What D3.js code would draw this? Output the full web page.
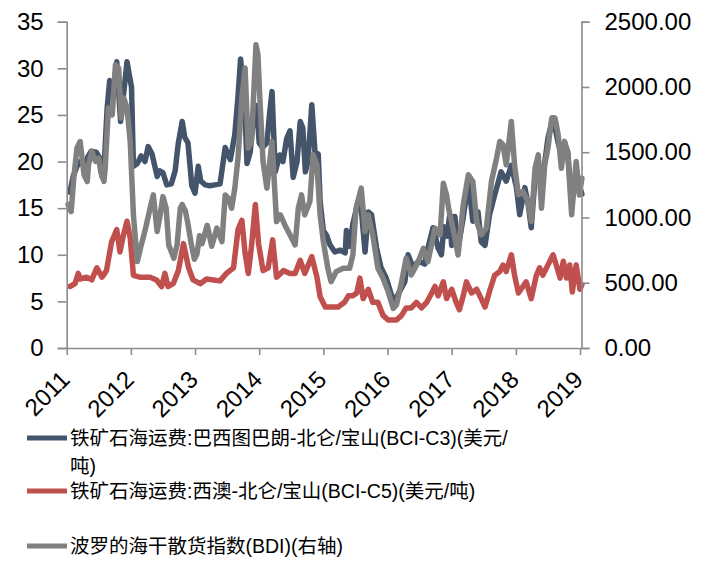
<!DOCTYPE html>
<html><head><meta charset="utf-8">
<script src="https://cdn.jsdelivr.net/npm/d3@7/dist/d3.min.js"></script>
<style>
body{margin:0;background:#fff;}
svg{display:block;}
text{font-family:"Liberation Sans",Arial,"Noto Sans CJK SC",sans-serif;fill:#000;}
</style></head><body>
<svg id="chart" width="719" height="561"></svg>
<script>
// ---- data (x in decimal years) ----
const yearTicks = [2011,2012,2013,2014,2015,2016,2017,2018,2019];
const leftTicks = [0,5,10,15,20,25,30,35];
const rightTicks = [0,500,1000,1500,2000,2500];

const c3Years = [2011.05,2011.10,2011.16,2011.21,2011.27,2011.33,2011.38,2011.46,2011.52,2011.55,2011.58,2011.63,2011.67,2011.72,2011.78,2011.84,2011.88,2011.94,2011.97,2012.01,2012.04,2012.10,2012.16,2012.22,2012.27,2012.33,2012.41,2012.45,2012.50,2012.56,2012.63,2012.69,2012.74,2012.80,2012.84,2012.89,2012.95,2013.00,2013.05,2013.09,2013.16,2013.23,2013.31,2013.39,2013.47,2013.55,2013.62,2013.67,2013.71,2013.75,2013.78,2013.81,2013.86,2013.90,2013.96,2014.00,2014.05,2014.12,2014.16,2014.20,2014.25,2014.32,2014.37,2014.43,2014.48,2014.53,2014.59,2014.64,2014.68,2014.72,2014.76,2014.82,2014.87,2014.92,2014.95,2015.00,2015.05,2015.10,2015.18,2015.26,2015.34,2015.36,2015.41,2015.46,2015.54,2015.59,2015.65,2015.70,2015.75,2015.83,2015.90,2015.98,2016.06,2016.12,2016.16,2016.27,2016.32,2016.40,2016.48,2016.58,2016.63,2016.71,2016.79,2016.84,2016.88,2016.93,2016.97,2017.00,2017.05,2017.10,2017.18,2017.26,2017.33,2017.41,2017.46,2017.52,2017.59,2017.67,2017.77,2017.85,2017.93,2018.01,2018.06,2018.14,2018.19,2018.24,2018.30,2018.35,2018.43,2018.50,2018.58,2018.66,2018.71,2018.76,2018.81,2018.87,2018.94,2019.00,2019.03];
const c3Values = [16.7,18.4,19.5,20.0,19.5,20.5,21.1,21.0,20.3,18.4,19.0,25.7,28.7,27.0,30.7,24.3,26.8,30.7,29.5,28.0,19.5,19.8,20.6,20.0,21.6,20.8,18.4,19.0,18.8,17.5,17.6,19.0,22.0,24.3,22.6,22.0,17.4,16.6,19.5,17.9,17.5,17.4,17.5,17.6,21.5,20.2,22.9,27.0,31.0,28.0,25.0,19.8,21.0,24.0,26.0,22.0,21.5,22.0,25.0,27.5,18.9,20.7,20.0,22.5,23.3,18.3,20.0,24.3,23.6,18.9,20.0,26.1,21.0,20.8,15.7,12.6,12.1,11.1,10.3,10.5,10.2,12.6,10.9,13.3,15.7,15.0,10.3,14.6,14.3,10.7,8.6,7.5,5.7,5.0,5.7,7.1,10.0,8.6,9.3,9.0,10.7,12.9,10.7,10.0,13.0,12.0,14.3,11.0,14.1,10.7,14.0,17.9,13.6,14.6,11.4,11.0,14.3,16.4,18.9,17.9,19.6,17.2,14.3,17.2,15.5,12.9,18.3,19.7,18.8,22.5,24.7,22.0,20.7,22.0,21.0,15.4,19.2,17.2,16.5];

const c5Years = [2011.05,2011.13,2011.18,2011.21,2011.31,2011.39,2011.47,2011.55,2011.62,2011.70,2011.78,2011.83,2011.88,2011.94,2011.99,2012.04,2012.14,2012.30,2012.40,2012.48,2012.53,2012.58,2012.66,2012.74,2012.82,2012.90,2012.97,2013.08,2013.18,2013.29,2013.39,2013.49,2013.60,2013.67,2013.73,2013.78,2013.83,2013.88,2013.94,2013.99,2014.06,2014.14,2014.21,2014.27,2014.38,2014.48,2014.56,2014.64,2014.71,2014.82,2014.90,2014.95,2015.03,2015.15,2015.23,2015.33,2015.39,2015.46,2015.52,2015.57,2015.62,2015.70,2015.77,2015.85,2015.93,2016.01,2016.14,2016.22,2016.29,2016.37,2016.45,2016.53,2016.61,2016.69,2016.74,2016.79,2016.87,2016.92,2017.00,2017.07,2017.12,2017.18,2017.23,2017.31,2017.39,2017.46,2017.52,2017.60,2017.67,2017.75,2017.80,2017.85,2017.93,2017.98,2018.04,2018.11,2018.16,2018.24,2018.32,2018.37,2018.42,2018.50,2018.58,2018.63,2018.69,2018.74,2018.79,2018.84,2018.88,2018.94,2019.00,2019.03];
const c5Values = [6.6,6.9,8.0,7.4,7.6,7.3,8.6,7.6,8.3,11.4,12.7,10.3,12.0,13.6,11.8,7.8,7.6,7.6,7.3,6.6,8.0,6.6,6.9,8.3,11.2,8.6,7.3,6.9,7.4,7.3,7.2,8.0,8.6,12.7,13.7,10.2,8.0,10.9,15.4,11.2,8.3,8.6,11.6,7.6,8.3,8.0,8.0,9.4,8.0,9.8,7.6,5.5,4.4,4.4,4.4,4.9,5.6,5.6,5.9,7.5,5.3,6.3,4.9,4.9,3.5,3.0,3.0,3.5,4.3,4.3,4.9,4.3,4.9,5.9,6.6,5.6,7.1,5.3,6.3,4.9,4.1,5.6,7.1,5.9,6.3,5.3,4.4,6.3,7.8,8.2,8.9,8.2,10.0,7.8,5.9,6.6,7.1,5.3,7.8,8.6,7.8,8.9,10.0,8.9,7.5,9.3,7.5,8.9,6.0,8.9,6.3,6.8];

const bdiYears = [2011.02,2011.07,2011.11,2011.16,2011.21,2011.27,2011.32,2011.34,2011.39,2011.45,2011.50,2011.53,2011.58,2011.60,2011.65,2011.71,2011.76,2011.81,2011.85,2011.89,2011.94,2011.99,2012.04,2012.10,2012.15,2012.23,2012.30,2012.35,2012.41,2012.45,2012.50,2012.55,2012.59,2012.67,2012.72,2012.77,2012.80,2012.85,2012.89,2012.94,2012.99,2013.03,2013.07,2013.11,2013.19,2013.26,2013.34,2013.42,2013.47,2013.52,2013.57,2013.62,2013.67,2013.73,2013.78,2013.83,2013.88,2013.95,2013.98,2014.01,2014.06,2014.12,2014.20,2014.27,2014.33,2014.40,2014.48,2014.56,2014.61,2014.66,2014.71,2014.79,2014.84,2014.90,2014.95,2015.00,2015.07,2015.12,2015.20,2015.31,2015.41,2015.46,2015.51,2015.59,2015.65,2015.70,2015.77,2015.85,2015.93,2016.01,2016.09,2016.14,2016.22,2016.29,2016.37,2016.48,2016.56,2016.63,2016.74,2016.82,2016.87,2016.92,2016.96,2017.02,2017.10,2017.18,2017.26,2017.33,2017.39,2017.46,2017.54,2017.62,2017.70,2017.75,2017.80,2017.85,2017.93,2017.98,2018.04,2018.11,2018.19,2018.24,2018.30,2018.35,2018.40,2018.45,2018.50,2018.56,2018.61,2018.66,2018.71,2018.76,2018.81,2018.87,2018.94,2018.99,2019.03];
const bdiValues = [1100,1045,1300,1532,1582,1327,1276,1403,1506,1430,1455,1350,1276,1378,1838,1787,2170,2144,1762,1915,1838,1582,1020,662,765,918,1071,1173,892,1000,1160,1071,790,688,790,1071,1100,1050,950,800,680,720,860,800,940,780,918,815,1173,1148,1071,1224,1455,1915,2145,1532,1583,2324,2250,1915,1429,1225,1583,969,1020,943,867,790,1071,1173,1020,1122,1480,1403,1020,815,611,508,585,611,611,713,1071,1225,892,1020,867,611,534,432,304,330,508,688,560,662,764,662,918,867,1263,1173,1050,918,713,1097,1327,1276,969,867,918,1276,1455,1582,1557,1403,1736,1403,1173,1199,1122,969,1378,1480,1071,1403,1532,1762,1762,1634,1378,1583,1480,1020,1429,1173,1300];

const seriesNames = [
  ["铁矿石海运费:巴西图巴朗-北仑/宝山(BCI-C3)(美元/", "吨)"],
  ["铁矿石海运费:西澳-北仑/宝山(BCI-C5)(美元/吨)"],
  ["波罗的海干散货指数(BDI)(右轴)"]
];
const colors = ["#44546A", "#C0504D", "#808080"];

// ---- layout ----
const svg = d3.select("#chart");
const mLeft = 66.7, mRight = 581.5, mTop = 21.7, mBottom = 348;
const x = d3.scaleLinear().domain([2011, 2019]).range([mLeft, 580]);
const yL = d3.scaleLinear().domain([0, 35]).range([mBottom, mTop]);
const yR = d3.scaleLinear().domain([0, 2500]).range([mBottom, mTop]);
const axisColor = "#8c8c8c";

function mk(years, vals){ return years.map((t,i)=>({t, v: vals[i]})); }
const seriesData = [
  {data: mk(c3Years, c3Values), y: yL, color: colors[0]},
  {data: mk(c5Years, c5Values), y: yL, color: colors[1]},
  {data: mk(bdiYears, bdiValues), y: yR, color: colors[2]}
];

seriesData.forEach(s => {
  const line = d3.line().x(d => x(d.t)).y(d => s.y(d.v)).curve(d3.curveLinear);
  svg.append("path").datum(s.data).attr("d", line)
    .attr("fill", "none").attr("stroke", s.color).attr("stroke-width", 5.5)
    .attr("stroke-linejoin", "round").attr("stroke-linecap", "round");
});

// left axis
const gL = svg.append("g").attr("transform", `translate(${mLeft},0)`)
  .call(d3.axisLeft(yL).tickValues(leftTicks).tickSize(9).tickPadding(14).tickFormat(d3.format("d")));
// right axis
const gR = svg.append("g").attr("transform", `translate(${mRight},0)`)
  .call(d3.axisRight(yR).tickValues(rightTicks).tickSize(8).tickPadding(15).tickFormat(d3.format(".2f")));
// bottom axis
const gB = svg.append("g").attr("transform", `translate(0,${mBottom})`)
  .call(d3.axisBottom(x).tickValues(yearTicks).tickSize(7).tickFormat(d3.format("d")));

[gL, gR, gB].forEach(g => {
  g.select(".domain").attr("stroke", axisColor).attr("stroke-width", 1.6);
  g.selectAll(".tick line").attr("stroke", axisColor).attr("stroke-width", 1.6);
  g.selectAll("text").attr("font-size", 24).attr("font-family", '"Liberation Sans", Arial, sans-serif').attr("fill", "#000");
});
gB.select(".domain").attr("d", `M${mLeft},0.5H${mRight}`);
gB.selectAll(".tick text")
  .attr("text-anchor", "end").attr("dy", null).attr("y", null)
  .attr("transform", "translate(4,33) rotate(-45)");

// legend
const lg = svg.append("g");
const legendY = [438, 491, 546];
seriesNames.forEach((lines, i) => {
  lg.append("line").attr("x1", 27).attr("x2", 67).attr("y1", legendY[i]).attr("y2", legendY[i])
    .attr("stroke", colors[i]).attr("stroke-width", 5);
  const t = lg.append("text").attr("x", 70).attr("y", legendY[i] + 7).attr("font-size", 19.5);
  lines.forEach((ln, j) => {
    t.append("tspan").attr("x", 70).attr("dy", j === 0 ? 0 : 28).text(ln);
  });
});
</script>
</body></html>
